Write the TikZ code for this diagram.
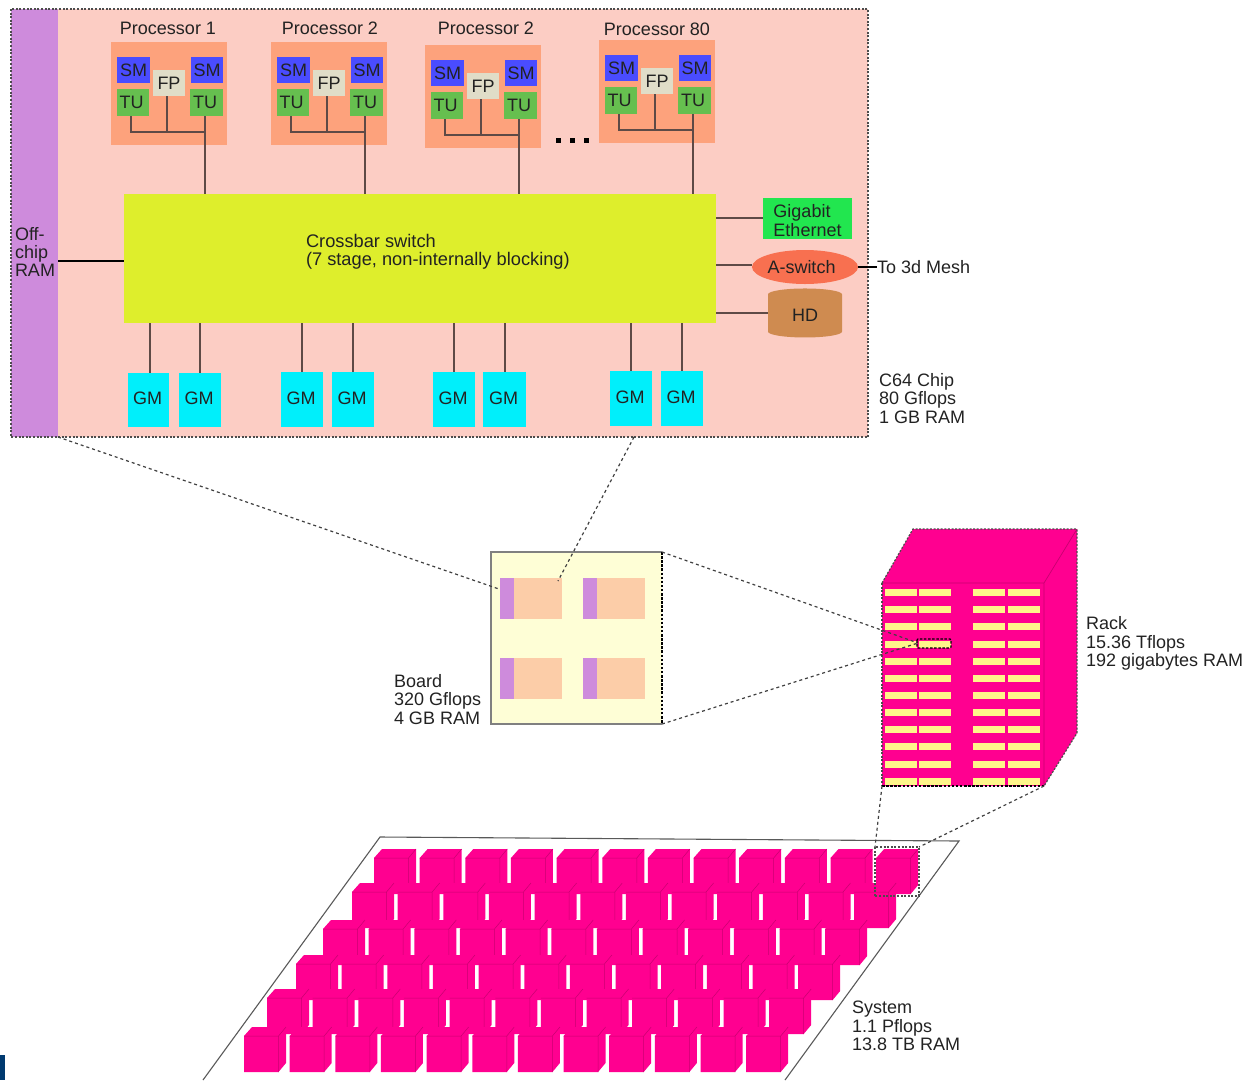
\documentclass[tikz,border=0pt]{standalone}
\usepackage{fontspec}
\setmainfont{Liberation Sans}
\usetikzlibrary{shapes.geometric,calc}
\definecolor{chipbg}{HTML}{FCCDC4}
\definecolor{procbg}{HTML}{FDA27C}
\definecolor{ramc}{HTML}{CE8BDC}
\definecolor{xbarc}{HTML}{DEEE2C}
\definecolor{smc}{HTML}{4A4CFF}
\definecolor{tuc}{HTML}{66BF4F}
\definecolor{fpc}{HTML}{E0DDC8}
\definecolor{gmc}{HTML}{00EFFB}
\definecolor{gbc}{HTML}{22E64F}
\definecolor{asc}{HTML}{F87050}
\definecolor{hdc}{HTML}{CF8B50}
\definecolor{boardc}{HTML}{FEFED6}
\definecolor{subc}{HTML}{FCCDA8}
\definecolor{rackc}{HTML}{FF0090}
\definecolor{rackline}{HTML}{C80070}
\definecolor{slotc}{HTML}{FFF58A}
\definecolor{inkc}{HTML}{222222}
\definecolor{wirec}{HTML}{5E4A46}
\definecolor{patchc}{HTML}{003A70}
\tikzset{
  basebox/.style={rectangle,draw=none,inner sep=0pt,outer sep=0pt,anchor=north west,text=inkc,align=center},
  wire/.style={draw=wirec,line width=1.3pt},
  ramwire/.style={draw=black,line width=2pt},
  zoomline/.style={draw=black!75,line width=1.2pt,dash pattern=on 3pt off 3pt},
  edgedots/.style={draw=black!70,line width=1.2pt,dash pattern=on 2pt off 1.6pt},
  heavydots/.style={draw=black,line width=1.5pt,dash pattern=on 2.5pt off 1.6pt},
  lab/.style={inner sep=0pt,outer sep=0pt,text=inkc,align=left,anchor=west},
  cubeface/.style={fill=rackc,draw=rackline,line width=.5pt},
  every node/.append style={font=\fontsize{18}{18.4}\selectfont},
}
\newcommand{\bx}[7]{%
  \pgfmathsetmacro{\bw}{#5-#3}\pgfmathsetmacro{\bh}{#6-#4}%
  \node[basebox,fill=#2,minimum width=\bw pt,minimum height=\bh pt] (#1) at (#3,#4) {#7};}
\newcommand{\proc}[3]{%
  \begin{scope}[shift={(#2,#3)}]
    \bx{#1-bg}{procbg}{111}{42}{227}{145}{}
    \bx{#1-sml}{smc}{117}{57}{150}{83}{SM}
    \bx{#1-smr}{smc}{191}{57}{223}{83}{SM}
    \bx{#1-fp}{fpc}{153}{70}{185}{96}{FP}
    \bx{#1-tul}{tuc}{117}{89}{149}{116}{TU\kern3pt}
    \bx{#1-tur}{tuc}{190}{89}{223}{116}{TU\kern3pt}
    \coordinate (#1-bus) at (205,132);
    \draw[wire] (#1-tul.south -| 131,0) |- (#1-bus);
    \draw[wire] (#1-fp.south -| 167,0) -- (#1-bus -| 167,0);
    \draw[wire] (#1-tur.south -| 205,0) -- (xbar.north -| 205,0);
  \end{scope}}
\newcommand{\gmtext}{\raisebox{3pt}{GM\kern2pt}}
\begin{document}
\begin{tikzpicture}[x=1pt,y=-1pt]
\useasboundingbox (0,0) rectangle (1247,1080);
% corner patch
\fill[patchc] (0,1055) rectangle (5,1080);
% chip
\bx{chip}{chipbg}{11}{9}{868}{437}{}
\bx{ram}{ramc}{11}{9}{58}{437}{}
\draw[edgedots] (chip.north west) rectangle (chip.south east);
\node[lab] (ramlab) at (15,252) {Off-\\chip\\RAM};
\bx{xbar}{xbarc}{124}{194}{716}{323}{}
\node[lab,font=\fontsize{18.25}{18.4}\selectfont] (xbarlab) at (306,252) {Crossbar switch\\(7 stage, non-internally blocking)};
\draw[ramwire] (ram.east |- 0,261) -- (xbar.west |- 0,261);
% processors
\proc{pa}{0}{0}
\proc{pb}{160}{0}
\proc{pc}{314}{3}
\proc{pd}{488}{-2}
\node[lab,anchor=center] (pal) at (168,28) {Processor 1};
\node[lab,anchor=center] (pbl) at (330,28) {Processor 2};
\node[lab,anchor=center] (pcl) at (486,28) {Processor 2};
\node[lab,anchor=center] (pdl) at (657,29) {Processor 80};
\foreach \d/\xx in {a/558,b/572,c/586}{
  \fill[black] (\xx-2.5,137.5) rectangle (\xx+2.5,143);
}
% global memory
\bx{gma}{gmc}{128}{373}{169}{427}{\gmtext}
\bx{gmb}{gmc}{179}{373}{221}{427}{\gmtext}
\bx{gmc1}{gmc}{281}{372}{323}{427}{\gmtext}
\bx{gmd}{gmc}{332}{372}{374}{427}{\gmtext}
\bx{gme}{gmc}{433}{372}{475}{427}{\gmtext}
\bx{gmf}{gmc}{483}{372}{526}{427}{\gmtext}
\bx{gmg}{gmc}{610}{371}{652}{426}{\gmtext}
\bx{gmh}{gmc}{661}{371}{703}{426}{\gmtext}
\foreach \n/\xx in {gma/150,gmb/200,gmc1/302,gmd/353,gme/454,gmf/505,gmg/631,gmh/682}{
  \draw[wire] (xbar.south -| \xx,0) -- (\n.north -| \xx,0);
}
% peripherals
\bx{gig}{gbc}{763}{198}{852}{239}{\raisebox{-4.5pt}[\height][\depth]{\begin{tabular}{@{}l@{}}Gigabit\\Ethernet\end{tabular}}}
\node[ellipse,fill=asc,minimum width=104pt,minimum height=34pt,inner sep=0pt,outer sep=0pt,text=inkc] (asw) at (805,267) {A-switch\kern7pt};
\node[cylinder,shape border rotate=90,aspect=.45,fill=hdc,draw=none,minimum width=74pt,minimum height=49pt,inner sep=0pt,outer sep=0pt,text=inkc] (hd) at (805,316) {\raisebox{2pt}{HD}};
\draw[wire] (xbar.east |- 0,218) -- (gig.west |- 0,218);
\draw[wire] (xbar.east |- 0,265) -- (asw.west |- 0,265);
\draw[wire] (xbar.east |- 0,313) -- (hd.west |- 0,313);
\node[lab] (mesh) at (877,267) {To 3d Mesh};
\draw[draw=black,line width=1.3pt] (asw.east) -- (mesh.west);
\node[lab] (chiplab) at (879,398.5) {C64 Chip\\80 Gflops\\1 GB RAM};
% board
\bx{board}{boardc}{491}{552}{662}{724}{}
\draw[draw=black!50,line width=1.4pt] (board.north east) -- (board.north west) -- (board.south west) -- (board.south east);
\draw[heavydots] (board.north east) -- (board.south east);
\foreach \n/\xa/\ya in {sa/500/578,sb/583/578,sc/500/658,sd/583/658}{
  \bx{\n}{subc}{\xa}{\ya}{\xa+62}{\ya+41}{}
  \bx{\n r}{ramc}{\xa}{\ya}{\xa+14}{\ya+41}{}
}
\node[lab] (boardlab) at (394,699.5) {Board\\320 Gflops\\4 GB RAM};
% rack
\coordinate (rfl) at (882,583);
\coordinate (rfr) at (1044,583);
\coordinate (rbl) at (913,529);
\coordinate (rbr) at (1077,529);
\coordinate (rbb) at (1077,733);
\coordinate (rbfr) at (1044,786);
\coordinate (rbfl) at (882,786);
\fill[rackc] (rfl) -- (rbl) -- (rbr) -- (rbb) -- (rbfr) -- (rbfl) -- cycle;
\draw[draw=rackline,line width=.7pt] (rfl) -- (rfr) -- (rbfr) (rfr) -- (rbr);
\draw[edgedots] (rfl) -- (rbl) -- (rbr) -- (rbb) -- (rbfr);
\draw[edgedots] (rfl) -- (rbfl);
\draw[heavydots] (rbfl) -- (rbfr);
\foreach \r in {0,...,11}{
  \foreach \xa/\c in {885/a,919/b,973/c,1008/d}{
    \pgfmathsetmacro{\yc}{589.2+17.13*\r}
    \bx{slot\c\r}{slotc}{\xa}{\yc}{\xa+32}{\yc+7}{}
  }
}
\node[lab] (racklab) at (1086,643.5) {Rack\\15.36 Tflops\\192 gigabytes RAM};
% system plate
\coordinate (pbl) at (203,1080);
\coordinate (ptl) at (380,837);
\coordinate (ptr) at (959,841);
\coordinate (pbr) at (785,1080);
\draw[draw=black!65,line width=1.1pt] (pbl) -- (ptl) -- (ptr) -- (pbr);
% racks on the system plate
\foreach \xo/\yo in {374/849,352/883,323/920,296/955,267/989,244/1027}{
  \foreach \i in {0,...,11}{
    \pgfmathsetmacro{\xa}{\xo+45.65*\i}
    \path[cubeface,draw=none] (\xa,\yo+9) -- (\xa+8,\yo) -- (\xa+42,\yo) -- (\xa+42,\yo+36) -- (\xa+34.5,\yo+45) -- (\xa,\yo+45) -- cycle;
    \draw[draw=rackline,line width=.5pt] (\xa,\yo+9) -- (\xa+34.5,\yo+9) -- (\xa+34.5,\yo+45) (\xa+34.5,\yo+9) -- (\xa+42,\yo);
  }
}
\node[lab] (syslab) at (852,1026) {System\\1.1 Pflops\\13.8 TB RAM};
% zoom guides
\coordinate (chipa) at (58,437);
\coordinate (chipb) at (634,437);
\coordinate (boarda) at (499,589);
\coordinate (boardb) at (558,581);
\draw[zoomline] (chipa) -- (boarda);
\draw[zoomline] (chipb) -- (boardb);
\coordinate (slotw) at (918,643);
\draw[zoomline] (board.north east) -- (slotw);
\draw[zoomline] (board.south east) -- (slotw);
\draw[heavydots,rounded corners=1pt,line width=1.2pt] (917,639) rectangle (951,648);
\coordinate (sela) at (875,847);
\coordinate (selb) at (919,847);
\coordinate (selc) at (919,896);
\coordinate (seld) at (875,896);
\draw[zoomline] (rbfl) -- (sela);
\draw[zoomline] (rbfr) -- (selb);
\draw[edgedots] (seld) -- (sela) -- (selb) -- (selc) -- (seld);
\end{tikzpicture}
\end{document}
